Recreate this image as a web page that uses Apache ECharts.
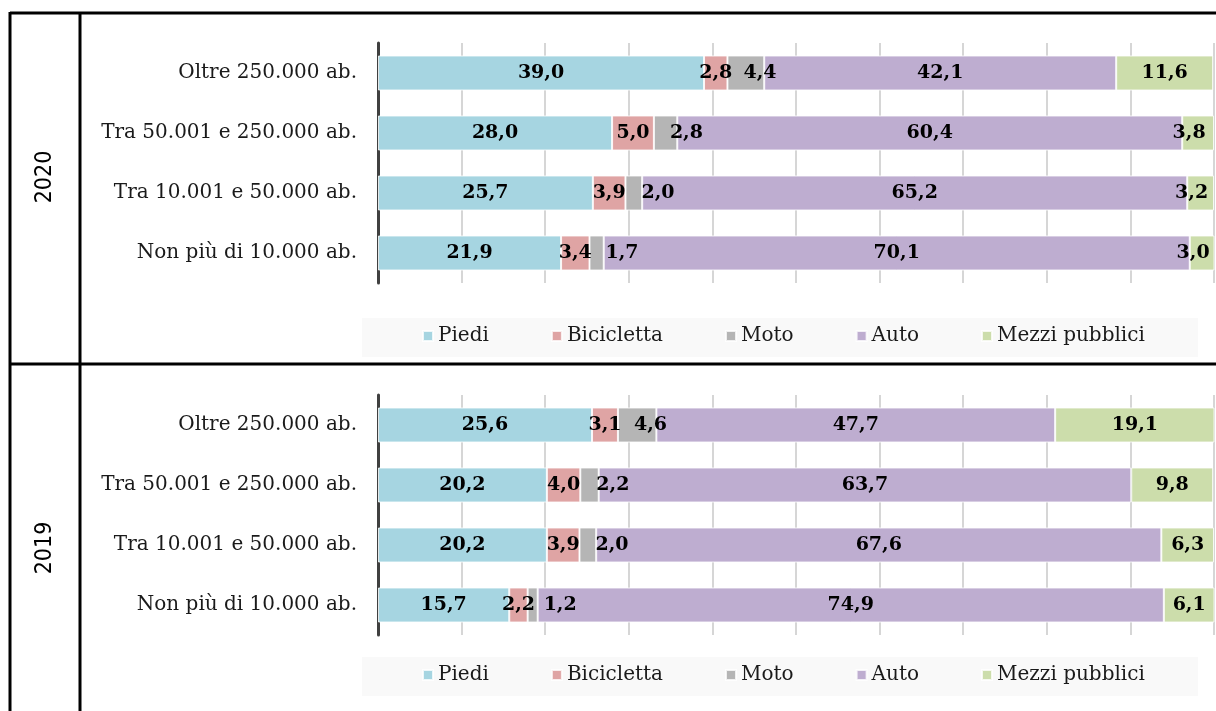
<!DOCTYPE html>
<html>
<head>
<meta charset="utf-8">
<script src="https://cdn.jsdelivr.net/npm/echarts@6/dist/echarts.min.js"></script>
<style>
html,body{margin:0;padding:0;background:#fff;}
#chart{width:1216px;height:711px;}
</style>
</head>
<body>
<div id="chart"></div>
<script>
// ---- Data ----
const categories = ["Oltre 250.000 ab.", "Tra 50.001 e 250.000 ab.", "Tra 10.001 e 50.000 ab.", "Non più di 10.000 ab."];
const seriesNames = ["Piedi", "Bicicletta", "Moto", "Auto", "Mezzi pubblici"];
const years = ["2020", "2019"];

const piedi2020 = [39.0, 28.0, 25.7, 21.9];
const bici2020  = [2.8, 5.0, 3.9, 3.4];
const moto2020  = [4.4, 2.8, 2.0, 1.7];
const auto2020  = [42.1, 60.4, 65.2, 70.1];
const mezzi2020 = [11.6, 3.8, 3.2, 3.0];

const piedi2019 = [25.6, 20.2, 20.2, 15.7];
const bici2019  = [3.1, 4.0, 3.9, 2.2];
const moto2019  = [4.6, 2.2, 2.0, 1.2];
const auto2019  = [47.7, 63.7, 67.6, 74.9];
const mezzi2019 = [19.1, 9.8, 6.3, 6.1];

// ---- Styles ----
const colors = ["#A6D5E1", "#DFA4A4", "#B5B5B5", "#BEADD0", "#CCDDAB"];
const serif = "'DejaVu Serif', 'Liberation Serif', serif";
const narrow = "'Liberation Sans Narrow', 'DejaVu Sans Condensed', sans-serif";
const fmt = v => (typeof v === 'object' ? v.value : v).toFixed(1).replace('.', ',');

const chart = echarts.init(document.getElementById('chart'), null, {renderer: 'canvas'});

const grids = [
  {left: 378, width: 836, top: 43, height: 240},
  {left: 378, width: 836, top: 395, height: 240}
];

function makeSeries(dataSets, idx) {
  return dataSets.map((arr, k) => {
    const data = arr.map(v => {
      const item = {value: v};
      if (k === 4 && v < 5) item.label = {offset: [-9, 0]};
      return item;
    });
    let label = {
      show: true, position: 'inside', formatter: p => fmt(p.value),
      fontFamily: serif, fontWeight: 'bold', fontSize: 19, color: '#000'
    };
    if (k === 2) { label.position = 'insideLeft'; label.offset = [11, 0]; }
    return {
      name: seriesNames[k], type: 'bar', stack: 'y' + idx,
      xAxisIndex: idx, yAxisIndex: idx,
      barWidth: 35,
      itemStyle: {color: colors[k], borderColor: 'rgba(255,255,255,0.8)', borderWidth: 1},
      label: label,
      emphasis: {disabled: true},
      data: data
    };
  });
}

const series = [
  ...makeSeries([piedi2020, bici2020, moto2020, auto2020, mezzi2020], 0),
  ...makeSeries([piedi2019, bici2019, moto2019, auto2019, mezzi2019], 1)
];

const xAxisBase = {
  type: 'value', min: 0, max: 100, interval: 10,
  axisLabel: {show: false}, axisLine: {show: false}, axisTick: {show: false},
  splitLine: {show: true, lineStyle: {color: '#C8C8C8', width: 1.5}}
};
const yAxisBase = {
  type: 'category', data: categories, inverse: true,
  axisTick: {show: false},
  axisLine: {show: true, lineStyle: {color: '#404040', width: 3}},
  axisLabel: {fontFamily: serif, fontSize: 20, color: '#1a1a1a', margin: 21}
};

const legendBase = {
  data: seriesNames, selectedMode: false,
  icon: 'rect', itemWidth: 10, itemHeight: 10, itemGap: 62,
  textStyle: {fontFamily: serif, fontSize: 20, color: '#1a1a1a'},
  left: 422, padding: 0
};

const lineStyle = {stroke: '#000', lineWidth: 3};

chart.setOption({
  animation: false,
  backgroundColor: '#fff',
  grid: grids,
  xAxis: [Object.assign({gridIndex: 0}, xAxisBase), Object.assign({gridIndex: 1}, xAxisBase)],
  yAxis: [Object.assign({gridIndex: 0}, yAxisBase), Object.assign({gridIndex: 1}, yAxisBase)],
  legend: [
    Object.assign({top: 326}, legendBase),
    Object.assign({top: 665}, legendBase)
  ],
  graphic: [
    {type: 'rect', z: -1, shape: {x: 362, y: 318, width: 836, height: 39}, style: {fill: '#F9F9F9'}},
    {type: 'rect', z: -1, shape: {x: 362, y: 657, width: 836, height: 39}, style: {fill: '#F9F9F9'}},
    {type: 'line', shape: {x1: 10, y1: 13, x2: 1216, y2: 13}, style: lineStyle},
    {type: 'line', shape: {x1: 10, y1: 364, x2: 1216, y2: 364}, style: lineStyle},
    {type: 'line', shape: {x1: 10, y1: 12, x2: 10, y2: 711}, style: lineStyle},
    {type: 'line', shape: {x1: 80, y1: 12, x2: 80, y2: 711}, style: lineStyle},
    {type: 'text', x: 45, y: 177, rotation: Math.PI / 2,
     style: {text: years[0], fontFamily: narrow, fontSize: 23, fill: '#000', textAlign: 'center', textVerticalAlign: 'middle'}},
    {type: 'text', x: 45, y: 548, rotation: Math.PI / 2,
     style: {text: years[1], fontFamily: narrow, fontSize: 23, fill: '#000', textAlign: 'center', textVerticalAlign: 'middle'}}
  ],
  series: series
});
</script>
</body>
</html>
